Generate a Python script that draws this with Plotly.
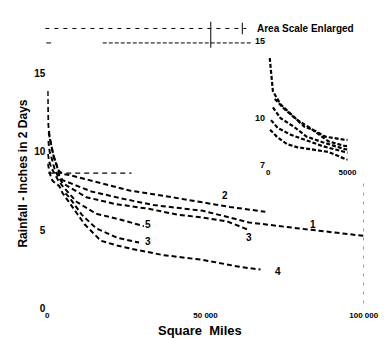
import plotly.graph_objects as go

# ---------------- data (area in square miles, depth in inches) ----------------
storm2_area = [100, 180, 240, 300, 780, 1390, 2290, 2830, 3610, 4820, 6950, 12990, 19030, 25980, 34140, 48640, 57700, 68880]
storm2_depth = [13.9, 13.0, 12.25, 11.75, 10.9, 10.3, 9.44, 9.25, 8.8, 8.6, 8.52, 8.21, 7.9, 7.53, 7.28, 6.79, 6.48, 6.17]

storm1_area = [420, 1020, 1810, 2590, 3800, 4820, 13900, 24470, 33530, 49240, 63740, 78850, 100000]
storm1_depth = [11.25, 10.6, 9.9, 9.4, 8.5, 8.2, 7.47, 6.98, 6.6, 6.23, 5.49, 5.12, 4.63]

storm3_area = [300, 780, 1630, 2410, 3430, 4820, 12390, 21450, 32020, 41090, 49240, 56790, 63740]
storm3_depth = [10.7, 10.0, 9.44, 8.81, 8.44, 8.0, 7.1, 6.67, 6.36, 5.99, 5.8, 5.56, 5.0]

storm5_area = [180, 600, 1390, 2230, 3430, 4820, 9365, 15400, 22960, 30510]
storm5_depth = [9.875, 9.375, 8.94, 8.63, 8.19, 7.81, 6.79, 6.05, 5.68, 5.25]

storm4_area = [120, 600, 1200, 1810, 3800, 4820, 7850, 11780, 16920, 22050, 25980, 32020, 36550, 49240, 60720, 67370]
storm4_depth = [9.25, 8.75, 8.31, 8.125, 7.81, 7.375, 6.48, 5.37, 4.32, 4.01, 3.83, 3.58, 3.4, 3.09, 2.65, 2.47]

storm6_area = [5740, 6950, 10880, 15400, 22050, 29000]
storm6_depth = [7.35, 7.1, 5.99, 5.12, 4.51, 4.2]

ref_area = [300, 26600]
ref_depth = [8.64, 8.64]

frame_area = [100000, 100000]
frame_depth = [0.3, 8.2]

curve_labels = ["2", "1", "3", "5", "3", "4"]
label_area = [56190, 83980, 63740, 31900, 31900, 72810]
label_depth = [7.22, 5.37, 4.5, 5.37, 4.26, 2.35]

y_ticks = [0, 5, 10, 15]
x_ticks = [0, 50000, 100000]
x_tick_text = ["0", "50 000", "100 000"]
inset_y_ticks = [7, 10, 15]
inset_x_ticks = [0, 5000]

series = [
    (storm2_area, storm2_depth),
    (storm1_area, storm1_depth),
    (storm3_area, storm3_depth),
    (storm5_area, storm5_depth),
    (storm4_area, storm4_depth),
    (storm6_area, storm6_depth),
]

W, H = 387, 339
FONT = "Liberation Sans"

fig = go.Figure()

for xs, ys in series:
    fig.add_trace(go.Scatter(x=xs, y=ys, mode="lines", xaxis="x", yaxis="y",
                             line=dict(color="black", width=2, dash="5px,3px"),
                             hoverinfo="skip", showlegend=False))
    fig.add_trace(go.Scatter(x=xs, y=ys, mode="lines", xaxis="x2", yaxis="y2",
                             line=dict(color="black", width=2.2, dash="4px,2px"),
                             hoverinfo="skip", showlegend=False))

fig.add_trace(go.Scatter(x=ref_area, y=ref_depth, mode="lines", xaxis="x", yaxis="y",
                         line=dict(color="black", width=1.2, dash="5px,4px"),
                         hoverinfo="skip", showlegend=False))
fig.add_trace(go.Scatter(x=frame_area, y=frame_depth, mode="lines", xaxis="x", yaxis="y",
                         line=dict(color="#555555", width=1, dash="3px,6px"),
                         hoverinfo="skip", showlegend=False, cliponaxis=False))

for t, xa, ya in zip(curve_labels, label_area, label_depth):
    fig.add_annotation(x=xa, y=ya, xref="x", yref="y", text="<b>" + t + "</b>",
                       showarrow=False, font=dict(family=FONT, size=10, color="black"))

# axis titles and heading
fig.add_annotation(x=199 / W, y=1 - 328 / H, xref="paper", yref="paper",
                   xanchor="center", yanchor="middle",
                   text="<b>Square  Miles</b>", showarrow=False,
                   font=dict(family=FONT, size=13, color="black"))
fig.add_annotation(x=14 / W, y=1 - 165 / H, xref="paper", yref="paper",
                   xanchor="center", yanchor="middle",
                   text="<b>Rainfall - Inches in 2 Days</b>", textangle=-90, showarrow=False,
                   font=dict(family=FONT, size=12, color="black"))
fig.add_annotation(x=256 / W, y=1 - 15 / H, xref="paper", yref="paper",
                   xanchor="left", yanchor="middle",
                   text="<b>Area Scale Enlarged</b>", showarrow=False,
                   font=dict(family=FONT, size=10, color="black"))

# faint residual rules at the top of the sheet
shapes = [
    dict(type="line", xref="paper", yref="paper", x0=37 / W, x1=247 / W, y0=1 - 15 / H, y1=1 - 15 / H,
         line=dict(color="black", width=1, dash="4px,5px")),
    dict(type="line", xref="paper", yref="paper", x0=38 / W, x1=43 / W, y0=1 - 30 / H, y1=1 - 30 / H,
         line=dict(color="black", width=1)),
    dict(type="line", xref="paper", yref="paper", x0=97 / W, x1=253 / W, y0=1 - 30 / H, y1=1 - 30 / H,
         line=dict(color="black", width=1, dash="4px,2px")),
    dict(type="line", xref="paper", yref="paper", x0=210 / W, x1=210 / W, y0=1 - 8 / H, y1=1 - 35 / H,
         line=dict(color="black", width=1)),
    dict(type="line", xref="paper", yref="paper", x0=243 / W, x1=243 / W, y0=1 - 9 / H, y1=1 - 21 / H,
         line=dict(color="black", width=1)),
]

axis_common = dict(showgrid=False, zeroline=False, showline=False, ticks="")

fig.update_layout(
    width=W, height=H, autosize=False,
    margin=dict(l=0, r=0, t=0, b=0),
    paper_bgcolor="white", plot_bgcolor="rgba(0,0,0,0)",
    showlegend=False,
    shapes=shapes,
    xaxis=dict(domain=[39 / W, 370 / W], range=[0, 100000], anchor="y",
               tickvals=x_ticks, ticktext=x_tick_text, ticklabelstandoff=1,
               tickfont=dict(family=FONT, size=8, color="black", weight="bold"), **axis_common),
    yaxis=dict(domain=[1 - 305 / H, 1 - 62 / H], range=[0, 15], anchor="x",
               tickvals=y_ticks, ticklabelstandoff=1,
               tickfont=dict(family=FONT, size=10, color="black", weight="bold"), **axis_common),
    xaxis2=dict(domain=[270 / W, 353 / W], range=[0, 5000], anchor="y2",
                tickvals=inset_x_ticks, ticklabelstandoff=2,
                tickfont=dict(family=FONT, size=8, color="black", weight="bold"), **axis_common),
    yaxis2=dict(domain=[1 - 156 / H, 1 - 28 / H], range=[7, 15], anchor="x2",
                tickvals=inset_y_ticks, ticklabelstandoff=2,
                tickfont=dict(family=FONT, size=9, color="black", weight="bold"), **axis_common),
)

fig.write_html("out.html")
